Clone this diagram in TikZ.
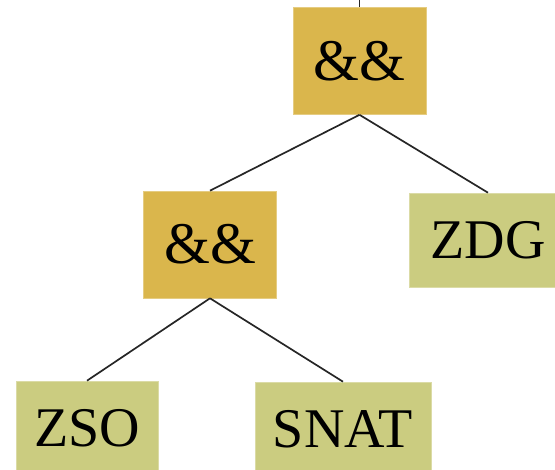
\documentclass[tikz,border=0pt]{standalone}
\usepackage{fontspec}
\setmainfont{Liberation Serif}
\definecolor{andgold}{RGB}{218,182,76}
\definecolor{leafolive}{RGB}{203,204,128}
\tikzset{
  opbox/.style={fill=andgold, draw=andgold!70!white, line width=0.6pt, inner sep=0pt,
    minimum width=133pt, minimum height=107pt, font=\fontsize{59}{66}\selectfont},
  leafbox/.style={fill=leafolive, draw=leafolive!70!white, line width=0.6pt, inner sep=0pt,
    minimum height=94pt, font=\fontsize{56}{64}\selectfont},
  branch/.style={line width=1.7pt, draw=black!85}
}
\begin{document}
\begin{tikzpicture}[x=1pt, y=-1pt]
    % picture frame
    \useasboundingbox (0, 0) rectangle (555, 470);
    % operator nodes
    \node [opbox] (and1) at (359.5, 61) {\&\&};
    \node [opbox] (and2) at (210, 244.5) {\&\&};
    % leaf nodes
    \node [leafbox, minimum width=158pt] (zdg) at (488, 240) {ZDG};
    \node [leafbox, minimum width=142pt] (zso) at (87, 428) {ZSO};
    \node [leafbox, minimum width=176pt] (snat) at (343, 429) {SNAT};
    % link to parent above
    \coordinate (up) at (359.5, -2);
    \draw [branch] (up) -- (and1.north);
    % branches
    \draw [branch] (and1.south) -- (and2.north);
    \draw [branch] (and1.south) -- (zdg.north);
    \draw [branch] (and2.south) -- (zso.north);
    \draw [branch] (and2.south) -- (snat.north);
\end{tikzpicture}
\end{document}
